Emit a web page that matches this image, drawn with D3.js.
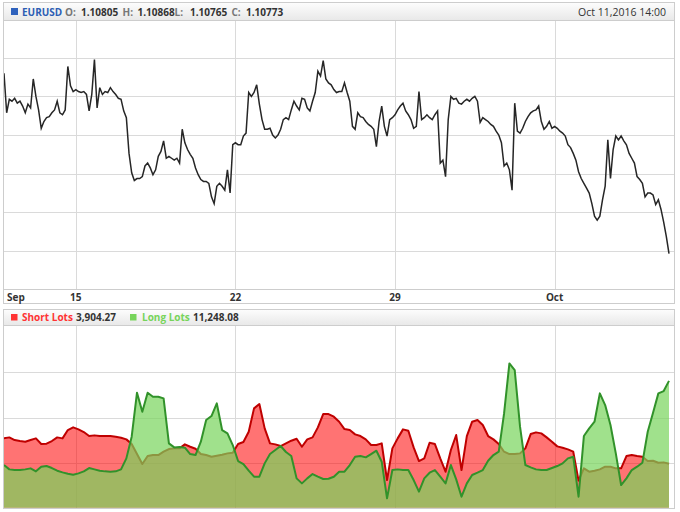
<!DOCTYPE html>
<html><head><meta charset="utf-8">
<script src="https://cdn.jsdelivr.net/npm/d3@7"></script>
<style>body{margin:0;background:#fff}svg{display:block}text{font-family:"Open Sans",sans-serif}</style>
</head><body><svg id="c" width="680" height="512"></svg>
<script>
const symbol = "EURUSD";
const ohlcLabels = ["O:", "H:", "L:", "C:"];
const ohlcValues = [1.10805, 1.10868, 1.10765, 1.10773];
const timestampLabel = "Oct 11,2016 14:00";
const axisLabels = ["Sep", "15", "22", "29", "Oct"];
const axisTickHours = [0, 54, 174, 294, 414];
const priceGridValues = [1.108, 1.112, 1.116, 1.120, 1.124, 1.128];
const lotsGridValues = [4000, 8000, 12000];
const seriesNames = ["Short Lots", "Long Lots"];

// EURUSD price, one value every 2 trading hours
const priceStepHours = 2;
const price = [
1.1264,1.1223,1.1237,1.1235,1.1238,1.1233,1.1235,1.1230,1.1223,1.1232,
1.1228,1.1258,1.1240,1.1226,1.1207,1.1214,1.1218,1.1219,1.1223,1.1226,
1.1235,1.1223,1.1221,1.1226,1.1271,1.1251,1.1245,1.1247,1.1245,1.1244,
1.1245,1.1242,1.1225,1.1242,1.1278,1.1228,1.1249,1.1242,1.1245,1.1244,
1.1249,1.1245,1.1242,1.1238,1.1237,1.1225,1.1218,1.1181,1.1161,1.1153,
1.1155,1.1155,1.1157,1.1168,1.1171,1.1166,1.1159,1.1164,1.1178,1.1183,
1.1194,1.1176,1.1178,1.1176,1.1174,1.1176,1.1171,1.1206,1.1192,1.1185,
1.1180,1.1176,1.1166,1.1159,1.1154,1.1152,1.1152,1.1150,1.1136,1.1129,
1.1147,1.1150,1.1147,1.1143,1.1164,1.1140,1.1190,1.1192,1.1190,1.1190,
1.1199,1.1202,1.1244,1.1240,1.1244,1.1252,1.1232,1.1216,1.1206,1.1206,
1.1207,1.1200,1.1197,1.1200,1.1206,1.1216,1.1218,1.1216,1.1226,1.1235,
1.1230,1.1226,1.1238,1.1237,1.1228,1.1225,1.1235,1.1244,1.1266,1.1261,
1.1277,1.1258,1.1254,1.1252,1.1247,1.1244,1.1245,
1.1245,1.1254,1.1244,1.1235,1.1209,1.1206,1.1223,1.1219,1.1218,1.1214,
1.1211,1.1209,1.1206,1.1188,1.1214,1.1230,1.1209,1.1199,1.1216,1.1218,
1.1221,1.1226,1.1230,1.1233,1.1225,1.1221,1.1216,1.1207,1.1209,1.1245,
1.1216,1.1218,1.1221,1.1218,1.1216,1.1221,1.1225,1.1171,1.1174,1.1157,
1.1216,1.1240,1.1237,1.1238,1.1233,1.1232,1.1235,1.1237,1.1235,1.1238,
1.1240,1.1235,1.1213,1.1218,1.1216,1.1214,1.1211,1.1209,1.1204,1.1200,
1.1192,1.1168,1.1171,1.1164,1.1143,1.1233,1.1204,1.1202,1.1207,1.1214,
1.1219,1.1223,1.1225,1.1226,1.1230,1.1214,1.1206,1.1209,1.1214,1.1207,
1.1209,1.1207,1.1204,1.1202,1.1199,1.1190,1.1187,1.1181,1.1174,1.1162,
1.1155,1.1150,1.1145,1.1140,1.1129,1.1116,1.1112,1.1116,1.1133,1.1147,
1.1195,1.1155,1.1185,1.1199,1.1195,1.1199,1.1194,1.1190,1.1181,1.1176,
1.1171,1.1157,1.1154,1.1150,1.1136,1.1140,1.1140,1.1138,1.1128,1.1133,
1.1123,1.1110,1.1095,1.10773
];

// Client positions in lots, one value every 4 trading hours
const lotsStepHours = 4;
const shortLots = [
6148,6237,6001,5912,5853,6001,6148,5646,5676,5912,
6237,6148,6887,7124,6947,6710,6355,6415,6355,6355,
6355,6296,6208,6060,5646,4759,3872,4582,4670,4670,
4966,5203,5262,5262,5616,5409,5232,4759,4670,4523,
4611,4700,4818,4877,5646,5823,6740,8809,9193,7035,
5705,5616,5469,5705,5942,6119,5409,6060,6237,7124,
8306,8306,8070,7626,
6976,6887,6503,6355,6060,5557,5557,5705,2450,5262,
6148,6947,6828,5350,4138,4375,5764,5646,4375,3192,
5114,6444,3340,6355,7626,7774,7331,6355,6060,5646,
4966,4759,4759,4818,5262,6533,6681,6592,6237,5853,
5439,5321,5173,4966,2400,3488,3192,3281,3399,3636,
3636,3488,3488,4582,4670,4582,4523,4138,4168,3991,
4020,3904.27
];
const longLots = [
3784,3399,3340,3340,3399,3488,3222,3636,3695,3518,
3281,3133,3015,2926,3045,3222,3518,3399,3281,3222,
3192,3222,3399,4375,6296,10198,8513,10198,9843,9843,
9696,5705,5350,5380,5321,4759,4670,5853,7774,8129,
9252,6887,6592,5557,4138,3872,3281,2749,2749,3931,
4759,5114,5469,4937,4582,2601,2158,2601,2986,2749,
2542,2572,2749,3192,
3192,3784,4523,4582,4464,4759,5055,4079,828,3340,
3399,3340,3340,2453,1419,2601,3104,3340,2749,2158,
3784,2513,975,2158,2897,3104,3340,4168,4670,4966,
8365,12799,12208,7183,3784,3577,3399,3340,3340,3518,
3695,3931,4375,4523,975,6355,7035,7626,10139,9104,
7331,4818,2010,2601,3340,3636,3991,6740,8425,10139,
10346,11248.08
];

const svg = d3.select("#c");
const totalHours = (price.length - 1) * priceStepHours;
const x = d3.scaleLinear().domain([0, totalHours]).range([4, 669]);
const yP = d3.scaleLinear().domain([1.10407, 1.1318]).range([289, 21]);
const yL = d3.scaleLinear().domain([0, 16000]).range([507.7, 327.3]);

const defs = svg.append("defs");
const grad = defs.append("linearGradient").attr("id", "hdr").attr("x1", 0).attr("y1", 0).attr("x2", 0).attr("y2", 1);
grad.append("stop").attr("offset", "0%").attr("stop-color", "#fdfdfd");
grad.append("stop").attr("offset", "100%").attr("stop-color", "#e8e8e8");
defs.append("clipPath").attr("id", "clipTop").append("rect").attr("x", 4).attr("y", 21).attr("width", 670).attr("height", 268);
defs.append("clipPath").attr("id", "clipBot").append("rect").attr("x", 4).attr("y", 326).attr("width", 670).attr("height", 182);

const border = "#cdcdcd", grid = "#dadada";

svg.append("rect").attr("x", 3.5).attr("y", 2.5).attr("width", 671).attr("height", 18).attr("fill", "url(#hdr)");
svg.append("rect").attr("x", 3.5).attr("y", 309.5).attr("width", 671).attr("height", 16).attr("fill", "url(#hdr)");

const tickX = axisTickHours.slice(1).map(h => x(h));
svg.append("g").selectAll("line").data(priceGridValues).join("line")
  .attr("x1", 4).attr("x2", 674).attr("y1", d => Math.round(yP(d)) + 0.5).attr("y2", d => Math.round(yP(d)) + 0.5)
  .attr("stroke", grid);
svg.append("g").selectAll("line").data(tickX).join("line")
  .attr("x1", d => Math.round(d) + 0.5).attr("x2", d => Math.round(d) + 0.5).attr("y1", 21).attr("y2", 289)
  .attr("stroke", grid);
svg.append("g").selectAll("line").data(lotsGridValues).join("line")
  .attr("x1", 4).attr("x2", 674).attr("y1", d => Math.round(yL(d)) + 0.5).attr("y2", d => Math.round(yL(d)) + 0.5)
  .attr("stroke", grid);
svg.append("g").selectAll("line").data(tickX).join("line")
  .attr("x1", d => Math.round(d) + 0.5).attr("x2", d => Math.round(d) + 0.5).attr("y1", 326).attr("y2", 508)
  .attr("stroke", grid);

// Price line
svg.append("path").datum(price).attr("clip-path", "url(#clipTop)")
  .attr("d", d3.line().x((d, i) => x(i * priceStepHours)).y(d => yP(d)))
  .attr("fill", "none").attr("stroke", "#262626").attr("stroke-width", 1.5).attr("stroke-linejoin", "miter");

// Lots areas
const area = d3.area().x((d, i) => x(i * lotsStepHours)).y0(yL(0)).y1(d => yL(d));
const line = d3.line().x((d, i) => x(i * lotsStepHours)).y(d => yL(d));
const gb = svg.append("g").attr("clip-path", "url(#clipBot)");
gb.append("path").datum(shortLots).attr("d", area).attr("fill", "rgba(255,0,0,0.55)");
gb.append("path").datum(shortLots).attr("d", line).attr("fill", "none").attr("stroke", "#bf0000").attr("stroke-width", 2).attr("stroke-linejoin", "round");
gb.append("path").datum(longLots).attr("d", area).attr("fill", "rgba(119,212,91,0.7)");
gb.append("path").datum(longLots).attr("d", line).attr("fill", "none").attr("stroke", "#31922a").attr("stroke-width", 2).attr("stroke-linejoin", "round");

// Frames
svg.append("rect").attr("x", 3.5).attr("y", 2.5).attr("width", 671).attr("height", 301).attr("fill", "none").attr("stroke", border);
svg.append("line").attr("x1", 3.5).attr("x2", 674.5).attr("y1", 20.5).attr("y2", 20.5).attr("stroke", border);
svg.append("line").attr("x1", 3.5).attr("x2", 674.5).attr("y1", 289.5).attr("y2", 289.5).attr("stroke", border);
svg.append("rect").attr("x", 3.5).attr("y", 309.5).attr("width", 671).attr("height", 199).attr("fill", "none").attr("stroke", border);
svg.append("line").attr("x1", 3.5).attr("x2", 674.5).attr("y1", 325.5).attr("y2", 325.5).attr("stroke", border);

// Axis labels
svg.append("g").selectAll("text").data(axisLabels).join("text")
  .attr("x", (d, i) => i === 0 ? 7 : x(axisTickHours[i]))
  .attr("y", 300.5)
  .attr("text-anchor", (d, i) => i === 0 ? "start" : "middle")
  .attr("font-size", 10).attr("font-weight", "bold").attr("fill", "#333")
  .text(d => d);

// Header top
const fmt5 = d3.format(".5f");
svg.append("rect").attr("x", 11).attr("y", 8).attr("width", 7).attr("height", 7).attr("fill", "#2f62bd");
svg.append("text").attr("x", 22).attr("y", 15.5).attr("font-size", 10).attr("font-weight", "bold").attr("fill", "#2d5eb4").text(symbol);
const labelX = [65, 122.5, 174.5, 231.5], valueX = [81, 137.5, 190, 246];
ohlcLabels.forEach((l, i) => {
  svg.append("text").attr("x", labelX[i]).attr("y", 15.5).attr("font-size", 10).attr("font-weight", "bold").attr("fill", "#777").text(l);
  svg.append("text").attr("x", valueX[i]).attr("y", 15.5).attr("font-size", 10).attr("font-weight", "bold").attr("fill", "#333").text(fmt5(ohlcValues[i]));
});
svg.append("text").attr("x", 666).attr("y", 15.5).attr("text-anchor", "end").attr("font-size", 10.5).attr("fill", "#333").text(timestampLabel);

// Legend bottom
const fmtL = d3.format(",.2f");
const legendCols = ["#ff3333", "#77d45b"];
const legSqX = [11, 130], legNameX = [22, 142], legValX = [76, 193];
const lastVals = [shortLots[shortLots.length - 1], longLots[longLots.length - 1]];
seriesNames.forEach((n, i) => {
  svg.append("rect").attr("x", legSqX[i]).attr("y", 314).attr("width", 6.5).attr("height", 6.5).attr("fill", legendCols[i]);
  svg.append("text").attr("x", legNameX[i]).attr("y", 321).attr("font-size", 10).attr("font-weight", "bold").attr("fill", legendCols[i]).text(n);
  svg.append("text").attr("x", legValX[i]).attr("y", 321).attr("font-size", 10).attr("font-weight", "bold").attr("fill", "#333").text(fmtL(lastVals[i]));
});
</script></body></html>
